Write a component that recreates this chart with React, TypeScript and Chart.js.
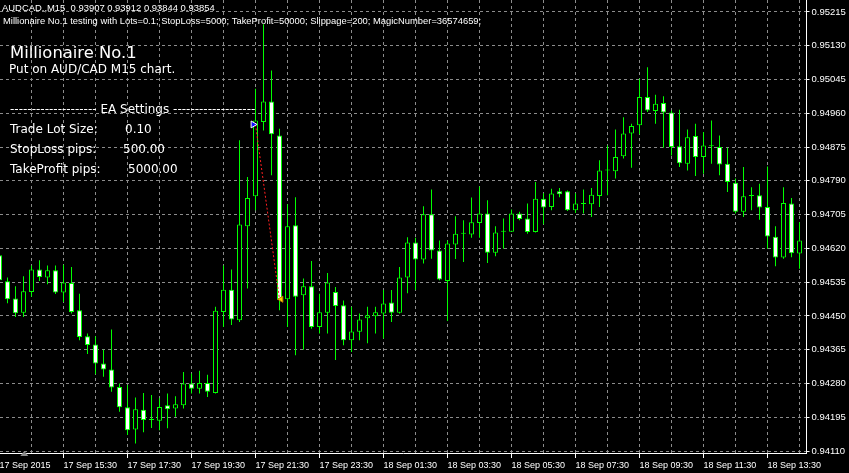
import React, { useEffect, useRef } from 'react';
import { Chart, registerables } from 'chart.js';

Chart.register(...registerables);

// ---------- data ----------
const xTickLabels = [
  '17 Sep 2015', '17 Sep 15:30', '17 Sep 17:30', '17 Sep 19:30', '17 Sep 21:30',
  '17 Sep 23:30', '18 Sep 01:30', '18 Sep 03:30', '18 Sep 05:30', '18 Sep 07:30',
  '18 Sep 09:30', '18 Sep 11:30', '18 Sep 13:30',
];
const barsPerLabel = 8;
const barsPerGrid = 4;

const yTickLabels = [
  '0.94110', '0.94195', '0.94280', '0.94365', '0.94450', '0.94535', '0.94620',
  '0.94705', '0.94790', '0.94875', '0.94960', '0.95045', '0.95130', '0.95215',
];

const opens = [
  0.94603, 0.94537, 0.94494, 0.94458, 0.94510, 0.94567, 0.94547, 0.94565, 0.94509, 0.94533,
  0.94464, 0.94399, 0.94378, 0.94330, 0.94315, 0.94271, 0.94220, 0.94164, 0.94214, 0.94188,
  0.94186, 0.94225, 0.94217, 0.94225, 0.94280, 0.94267, 0.94281, 0.94256, 0.94460, 0.94516,
  0.94439, 0.94676, 0.94751, 0.94938, 0.94990, 0.94904, 0.94492, 0.94678, 0.94502, 0.94525,
  0.94422, 0.94458, 0.94510, 0.94477, 0.94389, 0.94410, 0.94444, 0.94449, 0.94456, 0.94484,
  0.94458, 0.94547, 0.94635, 0.94592, 0.94706, 0.94615, 0.94538, 0.94630, 0.94657, 0.94655,
  0.94684, 0.94708, 0.94609, 0.94663, 0.94662, 0.94708, 0.94695, 0.94661, 0.94745, 0.94724,
  0.94764, 0.94764, 0.94716, 0.94732, 0.94731, 0.94752, 0.94816, 0.94814, 0.94852, 0.94909,
  0.94930, 0.95001, 0.94966, 0.94986, 0.94962, 0.94877, 0.94833, 0.94903, 0.94850, 0.94878,
  0.94875, 0.94833, 0.94785, 0.94712, 0.94752, 0.94754, 0.94724, 0.94649, 0.94597, 0.94733,
  0.94607,
];
const highs = [
  0.94610, 0.94547, 0.94525, 0.94550, 0.94577, 0.94590, 0.94577, 0.94577, 0.94579, 0.94573,
  0.94506, 0.94406, 0.94399, 0.94365, 0.94416, 0.94280, 0.94276, 0.94245, 0.94256, 0.94251,
  0.94243, 0.94255, 0.94248, 0.94309, 0.94305, 0.94312, 0.94302, 0.94473, 0.94577, 0.94567,
  0.94892, 0.94800, 0.95022, 0.95184, 0.95068, 0.94921, 0.94731, 0.94749, 0.94544, 0.94588,
  0.94506, 0.94558, 0.94523, 0.94489, 0.94473, 0.94456, 0.94473, 0.94473, 0.94515, 0.94515,
  0.94573, 0.94648, 0.94647, 0.94726, 0.94768, 0.94640, 0.94640, 0.94701, 0.94691, 0.94748,
  0.94776, 0.94741, 0.94676, 0.94695, 0.94718, 0.94712, 0.94733, 0.94787, 0.94759, 0.94770,
  0.94772, 0.94766, 0.94759, 0.94768, 0.94772, 0.94842, 0.94879, 0.94919, 0.94950, 0.94934,
  0.95047, 0.95076, 0.95007, 0.95003, 0.94967, 0.94969, 0.94919, 0.94934, 0.94913, 0.94942,
  0.94904, 0.94873, 0.94796, 0.94825, 0.94774, 0.94783, 0.94826, 0.94676, 0.94774, 0.94747,
  0.94686,
];
const lows = [
  0.94532, 0.94482, 0.94447, 0.94447, 0.94498, 0.94538, 0.94530, 0.94505, 0.94485, 0.94456,
  0.94389, 0.94354, 0.94303, 0.94297, 0.94259, 0.94209, 0.94150, 0.94129, 0.94157, 0.94168,
  0.94162, 0.94167, 0.94196, 0.94217, 0.94255, 0.94255, 0.94246, 0.94255, 0.94422, 0.94427,
  0.94435, 0.94519, 0.94716, 0.94917, 0.94804, 0.94464, 0.94422, 0.94351, 0.94365, 0.94418,
  0.94406, 0.94406, 0.94339, 0.94376, 0.94359, 0.94389, 0.94381, 0.94406, 0.94393, 0.94435,
  0.94456, 0.94507, 0.94515, 0.94582, 0.94594, 0.94540, 0.94437, 0.94593, 0.94586, 0.94647,
  0.94647, 0.94583, 0.94600, 0.94619, 0.94661, 0.94691, 0.94657, 0.94660, 0.94681, 0.94716,
  0.94749, 0.94714, 0.94709, 0.94708, 0.94699, 0.94724, 0.94754, 0.94796, 0.94846, 0.94823,
  0.94907, 0.94963, 0.94934, 0.94873, 0.94854, 0.94825, 0.94816, 0.94802, 0.94808, 0.94833,
  0.94804, 0.94762, 0.94708, 0.94699, 0.94716, 0.94692, 0.94619, 0.94575, 0.94594, 0.94598,
  0.94569,
];
const closes = [
  0.94540, 0.94492, 0.94457, 0.94512, 0.94567, 0.94548, 0.94565, 0.94509, 0.94534, 0.94460,
  0.94397, 0.94377, 0.94330, 0.94315, 0.94270, 0.94220, 0.94162, 0.94215, 0.94188, 0.94189,
  0.94221, 0.94215, 0.94228, 0.94280, 0.94267, 0.94281, 0.94259, 0.94463, 0.94516, 0.94441,
  0.94680, 0.94747, 0.94942, 0.94990, 0.94907, 0.94491, 0.94676, 0.94498, 0.94525, 0.94422,
  0.94459, 0.94534, 0.94475, 0.94389, 0.94411, 0.94441, 0.94452, 0.94459, 0.94481, 0.94458,
  0.94547, 0.94635, 0.94592, 0.94706, 0.94615, 0.94542, 0.94632, 0.94657, 0.94658, 0.94686,
  0.94708, 0.94609, 0.94660, 0.94662, 0.94708, 0.94694, 0.94661, 0.94745, 0.94723, 0.94758,
  0.94756, 0.94716, 0.94733, 0.94733, 0.94755, 0.94816, 0.94817, 0.94850, 0.94909, 0.94928,
  0.95001, 0.94967, 0.94984, 0.94962, 0.94875, 0.94834, 0.94900, 0.94850, 0.94879, 0.94877,
  0.94831, 0.94787, 0.94712, 0.94751, 0.94753, 0.94723, 0.94650, 0.94597, 0.94734, 0.94608,
  0.94640,
];

const tradeBars = [31.7, 35.2];
const tradePrices = [0.94932, 0.94492];

const headerLine1 = 'AUDCAD.,M15  0.93907 0.93912 0.93844 0.93854';
const headerLine2 =
  'Millionaire No.1 testing with Lots=0.1; StopLoss=5000; TakeProfit=50000; Slippage=200; MagicNumber=36574659;';
const eaTitle = 'Millionaire No.1';
const eaSubtitle = 'Put on AUD/CAD M15 chart.';
const settingsHeader = '-------------------- EA Settings -------------------';
const settingsLabels = ['Trade Lot Size:', 'StopLoss pips:', 'TakeProfit pips:'];
const settingsValues = ['0.10', '500.00', '5000.00'];

// ---------- styling ----------
const LIME = '#00ff00';
const GRID = '#8c8c8c';
const Y_MIN = 0.94105;
const Y_MAX = 0.952452;
const X_MIN = 0.0625;
const X_MAX = 100.875;

function fitText(ctx: CanvasRenderingContext2D, text: string, x: number, y: number, width: number, family: string) {
  ctx.font = `10px "${family}"`;
  const w = ctx.measureText(text).width;
  const size = (10 * width) / w;
  ctx.font = `${size}px "${family}"`;
  ctx.fillText(text, x, y);
}

const overlayPlugin = {
  id: 'mtOverlay',
  beforeDatasetsDraw(chart: any) {
    const ctx: CanvasRenderingContext2D = chart.ctx;
    ctx.save();
    ctx.fillStyle = '#ffffff';
    ctx.textAlign = 'left';
    ctx.textBaseline = 'alphabetic';
    fitText(ctx, headerLine1, 2, 10.5, 213, 'Liberation Sans');
    fitText(ctx, headerLine2, 3, 23.5, 479, 'Liberation Sans');
    ctx.font = '16.4px "DejaVu Sans"';
    ctx.fillText(eaTitle, 10, 57.5);
    ctx.font = '12px "DejaVu Sans"';
    ctx.fillText(eaSubtitle, 9, 72.5);
    ctx.fillText(settingsHeader, 10, 112.5);
    const valueX = [125, 123, 128];
    settingsLabels.forEach((label, i) => {
      ctx.fillText(label, 10, 132.5 + 20 * i);
      ctx.fillText(settingsValues[i], valueX[i], 132.5 + 20 * i);
    });
    ctx.restore();
  },
  afterDraw(chart: any) {
    const ctx: CanvasRenderingContext2D = chart.ctx;
    const xs = chart.scales.x;
    const bottom = chart.chartArea.bottom;
    const cx = xs.getPixelForValue(3.1);
    ctx.save();
    ctx.fillStyle = '#8a8a8a';
    ctx.beginPath();
    ctx.moveTo(cx - 4, bottom + 3);
    ctx.lineTo(cx + 4, bottom + 3);
    ctx.lineTo(cx, bottom - 2);
    ctx.closePath();
    ctx.fill();
    ctx.restore();
  },
};

export default function App() {
  const ref = useRef<HTMLCanvasElement>(null);

  useEffect(() => {
    document.body.style.margin = '0';
    document.body.style.background = '#000';
    const canvas = ref.current;
    if (!canvas) return;

    const idx = opens.map((_, i) => i);
    const bodyData = idx.map((i) => ({ x: i, y: [opens[i], closes[i]] }));
    const wickData = idx.map((i) => ({ x: i, y: [lows[i], highs[i]] }));
    const gridTicks: number[] = [];
    for (let v = 0; v < opens.length; v += barsPerGrid) gridTicks.push(v);

    const chart = new Chart(canvas, {
      type: 'bar',
      data: {
        datasets: [
          {
            type: 'scatter',
            data: tradeBars.map((b, i) => ({ x: b, y: tradePrices[i] })),
            pointStyle: 'triangle',
            rotation: [90, -90],
            radius: [4, 3.5],
            backgroundColor: ['#1010ff', '#ffd700'],
            borderColor: ['#ffffff', '#c08000'],
            borderWidth: 1,
          } as any,
          {
            type: 'line',
            data: [
              { x: Math.round(tradeBars[0]), y: tradePrices[0] },
              { x: Math.round(tradeBars[1]), y: tradePrices[1] },
            ],
            borderColor: '#ff2020',
            borderWidth: 1,
            borderDash: [2, 2],
            pointRadius: 0,
            fill: false,
          } as any,
          {
            data: bodyData as any,
            grouped: false,
            barThickness: 5,
            minBarLength: 1,
            borderWidth: 1,
            borderSkipped: false,
            inflateAmount: 0,
            borderColor: LIME,
            backgroundColor: (c: any) => {
              const i = c.dataIndex;
              if (i === undefined) return '#000';
              return closes[i] >= opens[i] ? '#000000' : '#ffffff';
            },
          } as any,
          {
            data: wickData as any,
            grouped: false,
            barThickness: 1,
            borderWidth: 0,
            borderSkipped: false,
            inflateAmount: 0,
            backgroundColor: LIME,
          } as any,
        ],
      },
      options: {
        animation: false,
        responsive: false,
        devicePixelRatio: 1,
        layout: { padding: 0, autoPadding: false } as any,
        plugins: { legend: { display: false }, tooltip: { enabled: false } },
        scales: {
          x: {
            type: 'linear',
            position: 'bottom',
            min: X_MIN,
            max: X_MAX,
            bounds: 'data',
            offset: false,
            afterBuildTicks: (s: any) => {
              s.ticks = gridTicks.map((v) => ({ value: v }));
            },
            afterFit: (s: any) => {
              s.height = 20;
              s.paddingLeft = 0;
              s.paddingRight = 0;
            },
            ticks: {
              autoSkip: false,
              maxRotation: 0,
              minRotation: 0,
              align: 'start',
              padding: 2,
              color: '#ffffff',
              font: { family: 'Liberation Sans', size: 9 },
              callback: (value: any) => {
                const v = Math.round(Number(value));
                return v % barsPerLabel === 0 ? xTickLabels[v / barsPerLabel] ?? '' : '';
              },
            },
            grid: {
              offset: false,
              color: GRID,
              lineWidth: 1,
              tickLength: 5,
              tickBorderDash: [],
              tickColor: (c: any) =>
                c.tick && Math.round(c.tick.value) % barsPerLabel === 0 ? '#ffffff' : 'rgba(0,0,0,0)',
            },
            border: { display: true, color: '#ffffff', width: 1, dash: [3, 3] },
          } as any,
          y: {
            type: 'linear',
            position: 'right',
            min: Y_MIN,
            max: Y_MAX,
            bounds: 'data',
            beginAtZero: false,
            afterBuildTicks: (s: any) => {
              s.ticks = yTickLabels.map((t) => ({ value: parseFloat(t) }));
            },
            afterFit: (s: any) => {
              s.width = 42.5;
              s.paddingTop = 0;
              s.paddingBottom = 0;
            },
            ticks: {
              padding: 2,
              color: '#ffffff',
              font: { family: 'Liberation Sans', size: 9.5 },
              callback: (value: any) => Number(value).toFixed(5),
            },
            grid: {
              color: GRID,
              lineWidth: 1,
              tickLength: 3,
              tickBorderDash: [],
              tickColor: '#ffffff',
            },
            border: { display: true, color: '#ffffff', width: 1, dash: [3, 3] },
          } as any,
        },
      },
      plugins: [overlayPlugin as any],
    });

    return () => chart.destroy();
  }, []);

  return (
    <div style={{ position: 'absolute', left: 0, top: 0, width: 849, height: 473, background: '#000' }}>
      <canvas ref={ref} width={849} height={473} style={{ display: 'block', width: 849, height: 473 }} />
    </div>
  );
}
